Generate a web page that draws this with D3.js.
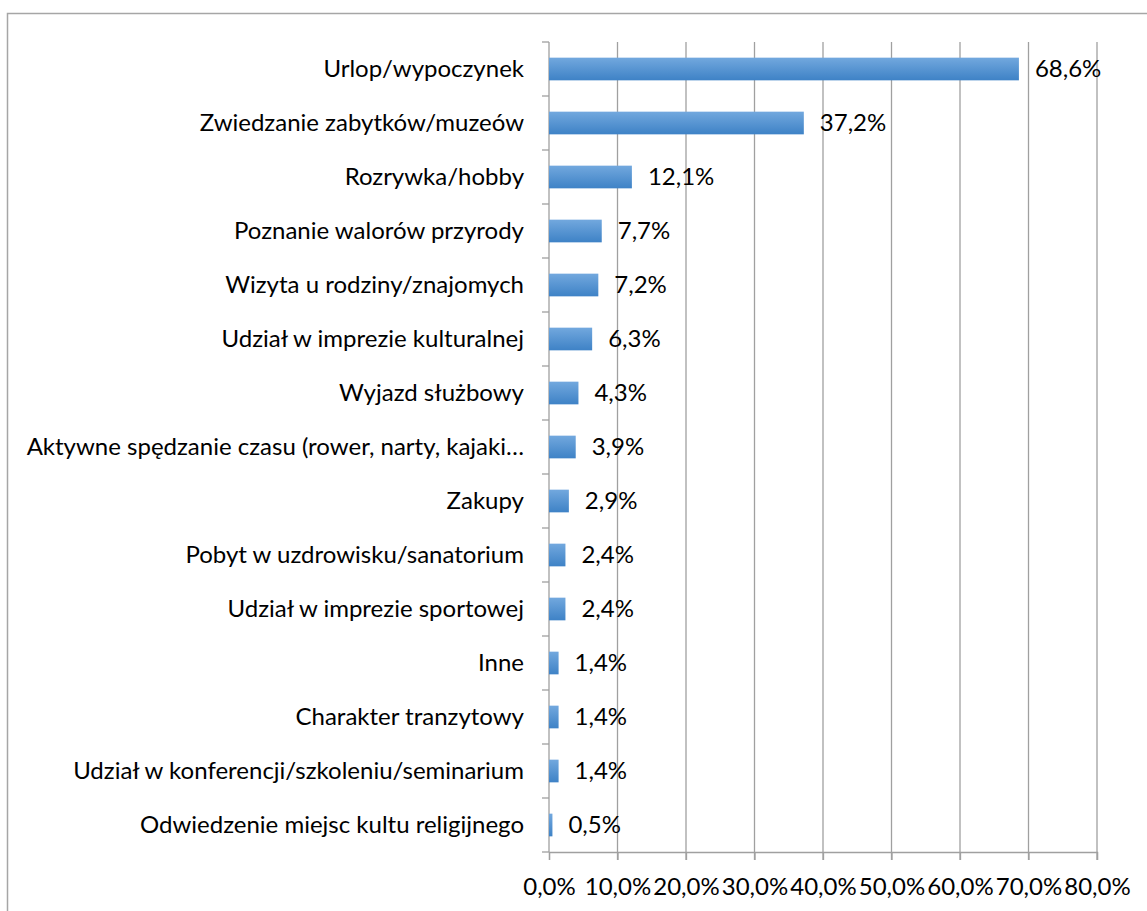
<!DOCTYPE html>
<html>
<head>
<meta charset="utf-8">
<script src="https://cdn.jsdelivr.net/npm/d3@7"></script>
<style>
  body { margin: 0; background: #fff; }
  svg text { font-family: Lato, "Open Sans", sans-serif; fill: #000; }
</style>
</head>
<body>
<div id="chart"></div>
<script>
// data
var categories = [
    "Urlop/wypoczynek",
    "Zwiedzanie zabytków/muzeów",
    "Rozrywka/hobby",
    "Poznanie walorów przyrody",
    "Wizyta u rodziny/znajomych",
    "Udział w imprezie kulturalnej",
    "Wyjazd służbowy",
    "Aktywne spędzanie czasu (rower, narty, kajaki…",
    "Zakupy",
    "Pobyt w uzdrowisku/sanatorium",
    "Udział w imprezie sportowej",
    "Inne",
    "Charakter tranzytowy",
    "Udział w konferencji/szkoleniu/seminarium",
    "Odwiedzenie miejsc kultu religijnego"
];
var values = [68.6, 37.2, 12.1, 7.7, 7.2, 6.3, 4.3, 3.9, 2.9, 2.4, 2.4, 1.4, 1.4, 1.4, 0.5];
var xTicks = [0, 10, 20, 30, 40, 50, 60, 70, 80];

var svgWidth = 1147;
var svgHeight = 911;

// plot area
var margin = { top: 42, left: 549, right: 50, bottom: 59 };
var width = 1097 - margin.left;
var height = 852 - margin.top;

var svg = d3.select("#chart")
    .append("svg")
    .attr("width", svgWidth)
    .attr("height", svgHeight);

// gradient for the bars
var grad = svg.append("defs").append("linearGradient")
    .attr("id", "barGrad")
    .attr("x1", 0).attr("y1", 0).attr("x2", 0).attr("y2", 1);
grad.append("stop").attr("offset", "0%").attr("stop-color", "#72a8de");
grad.append("stop").attr("offset", "100%").attr("stop-color", "#3e82c6");

// outer chart border (cropped on the right and bottom)
svg.append("rect")
    .attr("x", 7.5).attr("y", 13.5)
    .attr("width", 1160).attr("height", 910)
    .attr("fill", "none")
    .attr("stroke", "#a6a6a6")
    .attr("stroke-width", 1.5);

var chartGroup = svg.append("g")
    .attr("transform", `translate(${margin.left}, ${margin.top})`);

var x = d3.scaleLinear().domain([0, 80]).range([0, width]);
var y = d3.scaleBand().domain(categories).range([0, height]).paddingInner(0.58).paddingOuter(0.29);
var yEdge = d3.scaleLinear().domain([0, categories.length]).range([0, height]);

// vertical gridlines
chartGroup.append("g")
    .selectAll("line")
    .data(xTicks.slice(1))
    .enter().append("line")
    .attr("x1", d => x(d)).attr("x2", d => x(d))
    .attr("y1", 0).attr("y2", height + 8)
    .attr("stroke", "#a0a0a0")
    .attr("stroke-width", 1.3);

// x axis
var bottomAxis = d3.axisBottom(x)
    .tickValues(xTicks)
    .tickSize(8)
    .tickFormat(d => d3.format(".1f")(d).replace(".", ",") + "%");
var xg = chartGroup.append("g")
    .attr("transform", `translate(0, ${height})`)
    .call(bottomAxis);
xg.select(".domain").attr("stroke", "#a0a0a0").attr("stroke-width", 1.3);
xg.selectAll(".tick line").attr("stroke", "#a0a0a0").attr("stroke-width", 1.3);
xg.selectAll("text")
    .attr("y", 26)
    .attr("font-size", 24)
    .attr("fill", "#000");

// y axis line with ticks at band edges
var yg = chartGroup.append("g");
yg.append("line")
    .attr("x1", 0).attr("x2", 0)
    .attr("y1", 0).attr("y2", height)
    .attr("stroke", "#a0a0a0").attr("stroke-width", 1.3);
yg.selectAll(".edge")
    .data(d3.range(categories.length + 1))
    .enter().append("line")
    .attr("class", "edge")
    .attr("x1", -7).attr("x2", 0)
    .attr("y1", d => yEdge(d)).attr("y2", d => yEdge(d))
    .attr("stroke", "#a0a0a0").attr("stroke-width", 1.3);

// category labels
chartGroup.append("g")
    .selectAll("text")
    .data(categories)
    .enter().append("text")
    .attr("x", -25)
    .attr("y", d => y(d) + y.bandwidth() / 2)
    .attr("dy", "0.35em")
    .attr("text-anchor", "end")
    .attr("font-size", 24)
    .text(d => d);

// bars
chartGroup.append("g")
    .selectAll("rect")
    .data(values)
    .enter().append("rect")
    .attr("x", 0)
    .attr("y", (d, i) => y(categories[i]))
    .attr("width", d => x(d))
    .attr("height", y.bandwidth())
    .attr("fill", "url(#barGrad)");

// value labels
chartGroup.append("g")
    .selectAll("text")
    .data(values)
    .enter().append("text")
    .attr("x", d => x(d) + 16)
    .attr("y", (d, i) => y(categories[i]) + y.bandwidth() / 2)
    .attr("dy", "0.35em")
    .attr("font-size", 24)
    .text(d => d3.format(".1f")(d).replace(".", ",") + "%");
</script>
</body>
</html>
